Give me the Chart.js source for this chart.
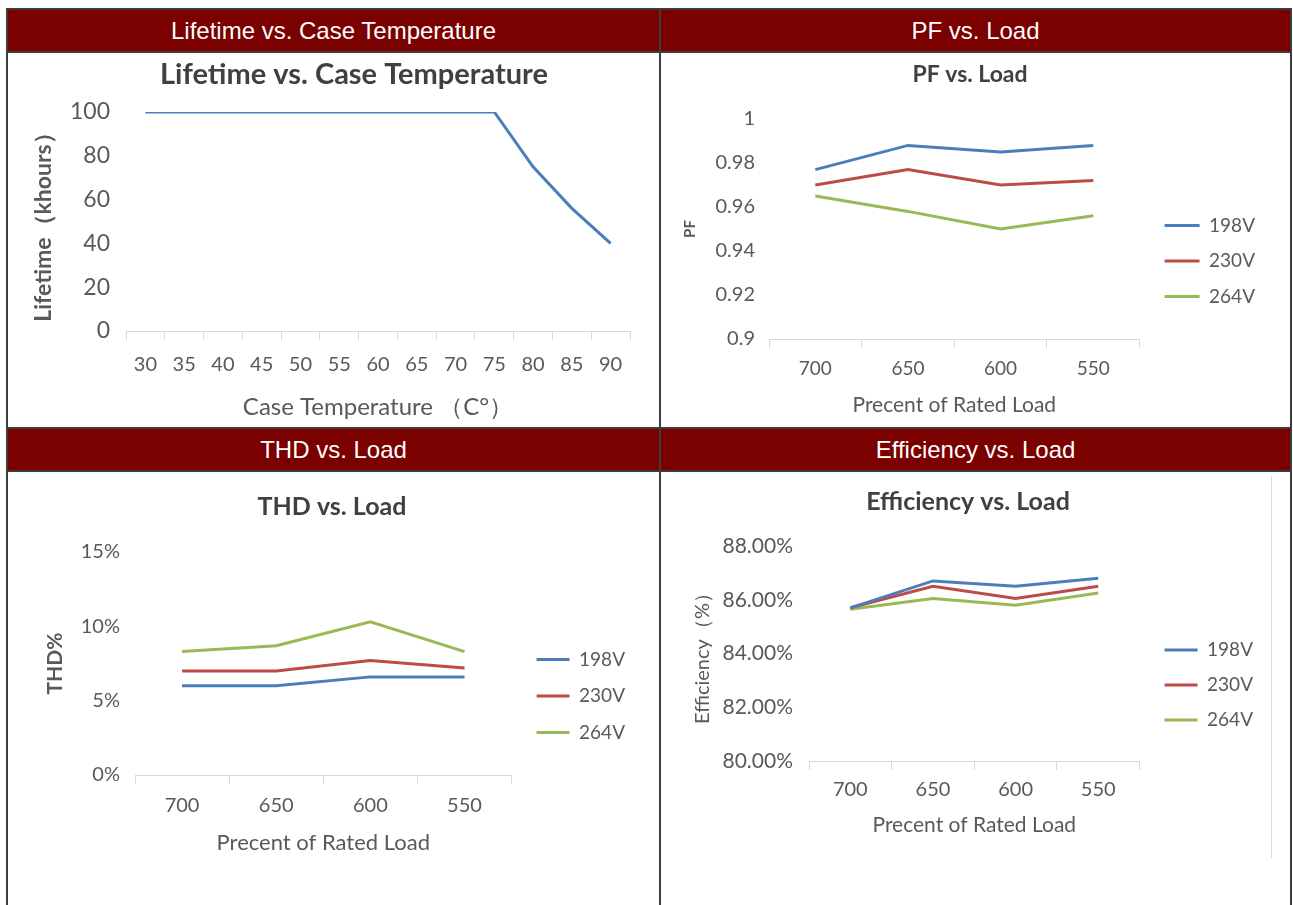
<!DOCTYPE html>
<html>
<head>
<meta charset="utf-8">
<title>Driver curves</title>
<script src="https://cdn.jsdelivr.net/npm/chart.js@4.4.1/dist/chart.umd.min.js"></script>
<style>
  html, body { margin: 0; padding: 0; background: #fff; }
  body { position: relative; width: 1293px; height: 905px; overflow: hidden; }
  .head { position: absolute; background: #7b0000; color: #fff; font: 24px 'Liberation Sans', Arial, sans-serif; display: flex; align-items: center; justify-content: center; z-index: 2; }
  .rule { position: absolute; background: #3d3d3d; z-index: 3; }
  canvas { position: absolute; z-index: 1; }
</style>
</head>
<body>
<div class="head" style="left:8px; top:10px; width:651px; height:41px">Lifetime vs. Case Temperature</div>
<div class="head" style="left:661px; top:10px; width:629px; height:41px">PF vs. Load</div>
<div class="head" style="left:8px; top:429px; width:651px; height:41px">THD vs. Load</div>
<div class="head" style="left:661px; top:429px; width:629px; height:41px">Efficiency vs. Load</div>

<div class="rule" style="left:6px; top:8px; width:1286px; height:2px"></div>
<div class="rule" style="left:6px; top:51px; width:1286px; height:2px"></div>
<div class="rule" style="left:6px; top:427px; width:1286px; height:2px"></div>
<div class="rule" style="left:6px; top:470px; width:1286px; height:2px"></div>
<div class="rule" style="left:6px; top:8px; width:2px; height:900px"></div>
<div class="rule" style="left:659px; top:8px; width:2px; height:900px"></div>
<div class="rule" style="left:1290px; top:8px; width:2px; height:900px"></div>
<div style="position:absolute; left:1271px; top:476px; width:1px; height:382px; background:#dcdcdc"></div>

<canvas id="lifeChart"></canvas>
<canvas id="pfChart"></canvas>
<canvas id="thdChart"></canvas>
<canvas id="effChart"></canvas>

<script>
// data
const tempLabels = ['30', '35', '40', '45', '50', '55', '60', '65', '70', '75', '80', '85', '90']
const lifetime = [100, 100, 100, 100, 100, 100, 100, 100, 100, 100, 75, 56, 40]
const lifeTicks = ['0', '20', '40', '60', '80', '100']

const loadLabels = ['700', '650', '600', '550']
const voltLabels = ['198V', '230V', '264V']

const pf198 = [0.977, 0.988, 0.985, 0.988]
const pf230 = [0.970, 0.977, 0.970, 0.972]
const pf264 = [0.965, 0.958, 0.950, 0.956]
const pfTicks = ['0.9', '0.92', '0.94', '0.96', '0.98', '1']

const thd198 = [6.0, 6.0, 6.6, 6.6]
const thd230 = [7.0, 7.0, 7.7, 7.2]
const thd264 = [8.3, 8.7, 10.3, 8.3]
const thdTicks = ['0%', '5%', '10%', '15%']

const eff198 = [85.7, 86.7, 86.5, 86.8]
const eff230 = [85.7, 86.5, 86.05, 86.5]
const eff264 = [85.65, 86.05, 85.8, 86.25]
const effTicks = ['80.00%', '82.00%', '84.00%', '86.00%', '88.00%']

// look
const font = "Lato, 'Noto Sans', sans-serif"
const gray = '#595959'
const axisColor = '#d9d9d9'
const colors = ['#4a7ebb', '#be4b48', '#98b954']
const tickLen = 9
const spare = 24   // extra canvas on the left so rotated titles are not cut

const measureCtx = document.createElement('canvas').getContext('2d')
const textWidth = (text, size) => {
    measureCtx.font = size + 'px ' + font
    return measureCtx.measureText(text).width
}
const lh = size => size * 1.2

const voltSeries = (a, b, c) => [a, b, c].map((data, i) => ({ label: voltLabels[i], data, color: colors[i] }))

// box = where things sit on the page (plot area, titles, legend)
function drawChart(id, box, labels, series, yMin, yMax, yStep, yTicks) {
    let boxLeft = box.canvasLeft
    let canvasRight = box.canvasRight
    let gap = canvasRight - box.right
    let legend = { display: false }

    if (box.legend) {
        const lg = box.legend
        const widest = Math.max(...series.map(s => textWidth(s.label, lg.size)))
        const legendLeft = lg.lineX - lg.pad
        // chart.js adds 10px to a side legend's width
        canvasRight = legendLeft + lg.pad + lg.boxW + lg.size / 2 + widest + 10
        boxLeft = Math.round(2 * box.titleX - canvasRight)
        gap = legendLeft - box.right
        legend = {
            display: true,
            position: 'right',
            align: 'center',
            maxWidth: 400,
            labels: {
                usePointStyle: true,
                pointStyle: 'line',
                pointStyleWidth: lg.boxW,
                boxHeight: lg.size,
                color: gray,
                font: { family: font, size: lg.size },
                padding: lg.pad
            }
        }
    }

    const canvasLeft = boxLeft - spare
    const canvas = document.getElementById(id)
    const w = Math.round(canvasRight - canvasLeft)
    const h = box.canvasBottom - box.canvasTop
    canvas.width = w
    canvas.height = h
    canvas.style.width = w + 'px'
    canvas.style.height = h + 'px'
    canvas.style.left = canvasLeft + 'px'
    canvas.style.top = box.canvasTop + 'px'

    const titleTop = box.titleY - box.canvasTop - lh(box.titleSize) / 2
    const titleBottom = box.top - box.canvasTop - titleTop - lh(box.titleSize)

    new Chart(canvas, {
        type: 'line',
        data: {
            labels: labels,
            datasets: series.map(s => ({
                label: s.label,
                data: s.data,
                borderColor: s.color,
                backgroundColor: s.color,
                borderWidth: 3,
                pointRadius: 0,
                pointHoverRadius: 0,
                tension: 0,
                yAxisID: 'y'
            }))
        },
        options: {
            responsive: false,
            animation: false,
            layout: { padding: { left: spare, right: 0, top: 0, bottom: 0 } },
            plugins: {
                legend: legend,
                tooltip: { enabled: false },
                title: {
                    display: true,
                    text: box.title,
                    color: '#404040',
                    font: { family: font, size: box.titleSize, weight: 'bold' },
                    padding: { top: titleTop, bottom: titleBottom }
                }
            },
            scales: {
                x: {
                    offset: true,
                    grid: { offset: true, drawOnChartArea: false, drawTicks: true, tickLength: tickLen, color: axisColor },
                    border: { color: axisColor },
                    ticks: {
                        color: gray,
                        font: { family: font, size: box.xTickSize },
                        padding: box.xTickY - box.bottom - tickLen - lh(box.xTickSize) / 2,
                        maxRotation: 0,
                        autoSkip: false
                    },
                    title: {
                        display: true,
                        text: box.xTitle,
                        color: gray,
                        font: { family: font, size: box.xTitleSize },
                        padding: { top: 0, bottom: box.canvasBottom - box.xTitleY - lh(box.xTitleSize) / 2 }
                    },
                    afterFit: scale => { scale.height = box.canvasBottom - box.bottom }
                },
                y: {
                    min: yMin,
                    max: yMax,
                    grid: { display: false, drawTicks: false },
                    border: { display: false },
                    ticks: {
                        stepSize: yStep,
                        color: gray,
                        font: { family: font, size: box.yTickSize },
                        padding: box.yTickPad,
                        callback: (v, i) => yTicks[i] ?? v
                    },
                    title: {
                        display: true,
                        text: box.yTitle,
                        color: gray,
                        font: { family: font, size: box.yTitleSize, weight: box.yTitleWeight },
                        padding: { top: box.yTitleX - boxLeft - lh(box.yTitleSize) / 2, bottom: 0 }
                    },
                    afterFit: scale => { scale.width = box.left - boxLeft }
                },
                // empty axis, only keeps room between plot and legend
                gap: {
                    type: 'linear',
                    position: 'right',
                    min: 0,
                    max: 1,
                    ticks: { display: false },
                    grid: { display: false, drawTicks: false },
                    border: { display: false },
                    afterFit: scale => { scale.width = gap }
                }
            }
        }
    })
}

drawChart('lifeChart', {
    canvasLeft: 28, canvasRight: 680, canvasTop: 53, canvasBottom: 419,
    left: 126, right: 630, top: 112, bottom: 331,
    title: 'Lifetime vs. Case Temperature', titleSize: 29, titleY: 75,
    yTitle: 'Lifetime（khours）', yTitleSize: 23, yTitleWeight: 'bold', yTitleX: 44, yTickSize: 23, yTickPad: 16,
    xTitle: 'Case Temperature （C°）', xTitleSize: 24, xTitleY: 407, xTickSize: 20, xTickY: 365
}, tempLabels, [{ label: 'Lifetime', data: lifetime, color: colors[0] }], 0, 100, 20, lifeTicks)

drawChart('pfChart', {
    canvasTop: 53, canvasBottom: 469,
    left: 769, right: 1140, top: 119, bottom: 339,
    title: 'PF vs. Load', titleSize: 23, titleY: 75, titleX: 970,
    yTitle: 'PF', yTitleSize: 15, yTitleWeight: 'bold', yTitleX: 690, yTickSize: 20, yTickPad: 14,
    xTitle: 'Precent of Rated Load', xTitleSize: 21, xTitleY: 405, xTickSize: 19, xTickY: 369,
    legend: { lineX: 1165, pad: 16.5, boxW: 35, size: 19 }
}, loadLabels, voltSeries(pf198, pf230, pf264), 0.9, 1, 0.02, pfTicks)

drawChart('thdChart', {
    canvasTop: 472, canvasBottom: 920,
    left: 135, right: 512, top: 552, bottom: 775,
    title: 'THD vs. Load', titleSize: 25, titleY: 507, titleX: 332,
    yTitle: 'THD%', yTitleSize: 21, yTitleWeight: 'bold', yTitleX: 55, yTickSize: 20, yTickPad: 15,
    xTitle: 'Precent of Rated Load', xTitleSize: 22, xTitleY: 843, xTickSize: 20, xTickY: 806,
    legend: { lineX: 537, pad: 17.5, boxW: 33, size: 19 }
}, loadLabels, voltSeries(thd198, thd230, thd264), 0, 15, 5, thdTicks)

drawChart('effChart', {
    canvasTop: 472, canvasBottom: 898,
    left: 809, right: 1140, top: 546, bottom: 761,
    title: 'Efficiency vs. Load', titleSize: 25, titleY: 502, titleX: 968,
    yTitle: 'Efficiency（%）', yTitleSize: 20, yTitleWeight: 'normal', yTitleX: 703, yTickSize: 21, yTickPad: 16,
    xTitle: 'Precent of Rated Load', xTitleSize: 21, xTitleY: 825, xTickSize: 20, xTickY: 790,
    legend: { lineX: 1165, pad: 16, boxW: 33, size: 19 }
}, loadLabels, voltSeries(eff198, eff230, eff264), 80, 88, 2, effTicks)
</script>
</body>
</html>
